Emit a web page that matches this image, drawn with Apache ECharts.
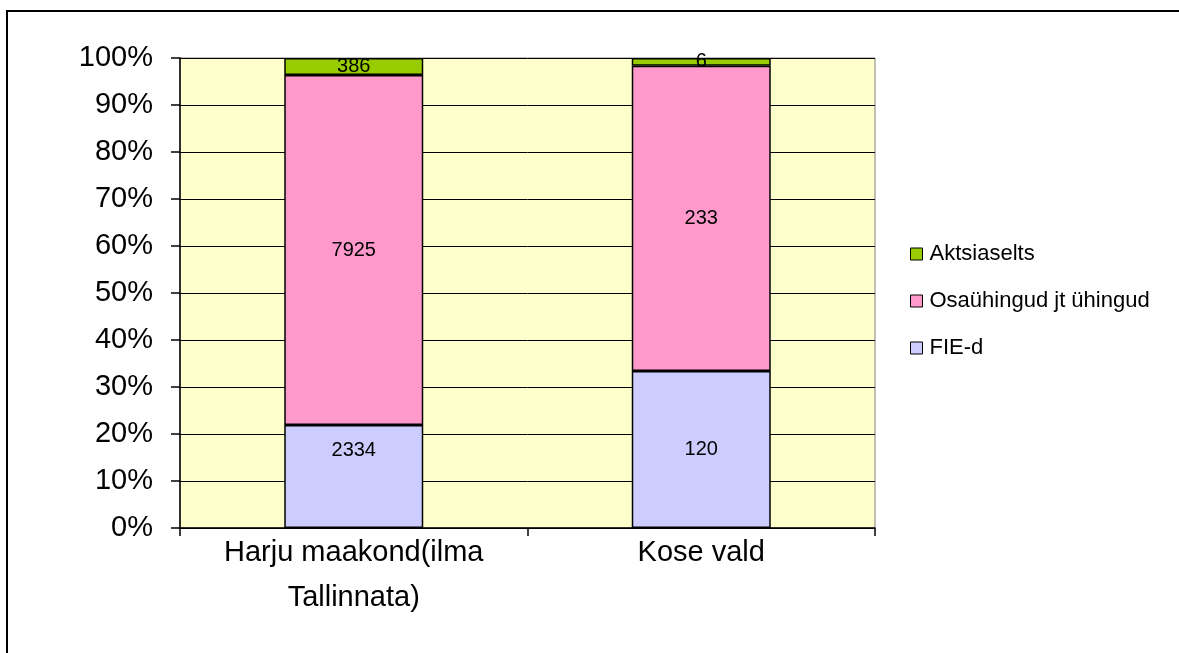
<!DOCTYPE html>
<html>
<head>
<meta charset="utf-8">
<script src="https://cdn.jsdelivr.net/npm/echarts@6/dist/echarts.min.js"></script>
<style>
  html, body { margin: 0; padding: 0; background: #fff; }
  #chart { width: 1179px; height: 653px; }
</style>
</head>
<body>
<div id="chart"></div>
<script>
// kategooriad ja väärtused
const categories = ['Harju maakond(ilma\nTallinnata)', 'Kose vald'];
const fieD = [2334, 120];
const osayhingud = [7925, 233];
const aktsiaselts = [386, 6];
const yTicks = ['0%', '10%', '20%', '30%', '40%', '50%', '60%', '70%', '80%', '90%', '100%'];

const totals = categories.map((c, i) => fieD[i] + osayhingud[i] + aktsiaselts[i]);
const pct = arr => arr.map((v, i) => ({ value: v / totals[i] * 100, raw: v }));

const font = 'Arial, Liberation Sans, sans-serif';
const chart = echarts.init(document.getElementById('chart'));

const labelStyle = {
    show: true,
    position: 'inside',
    color: '#000',
    fontFamily: font,
    fontSize: 20,
    formatter: p => p.data.raw
};

function series(name, arr, color, z) {
    return {
        name: name,
        type: 'bar',
        stack: 'total',
        barWidth: '40%',
        data: pct(arr),
        itemStyle: { color: color, borderColor: '#000', borderWidth: 1.5 },
        label: labelStyle,
        z: z
    };
}

const fieSeries = series('FIE-d', fieD, '#CCCCFF', 2);
// Harju FIE silt on veidi kõrgemal
fieSeries.data[0].label = { offset: [0, -26] };

chart.setOption({
    animation: false,
    backgroundColor: '#fff',
    graphic: [{
        type: 'rect',
        shape: { x: 7, y: 11, width: 1400, height: 800 },
        style: { fill: 'none', stroke: '#000', lineWidth: 2 },
        silent: true
    }],
    grid: {
        left: 180, top: 58, width: 695, height: 470,
        show: true, backgroundColor: '#FFFFCC',
        borderColor: '#808080', borderWidth: 1
    },
    legend: {
        orient: 'vertical',
        left: 905, top: 238,
        itemGap: 25,
        itemWidth: 12, itemHeight: 12,
        icon: 'rect',
        itemStyle: { borderColor: '#000', borderWidth: 1 },
        textStyle: { fontFamily: font, fontSize: 22, color: '#000', padding: [0, 0, 0, 2] },
        data: ['Aktsiaselts', 'Osaühingud jt ühingud', 'FIE-d']
    },
    xAxis: {
        type: 'category',
        data: categories,
        axisLine: { lineStyle: { color: '#000', width: 1.5 } },
        axisTick: { show: true, length: 8, lineStyle: { color: '#000', width: 1.5 } },
        axisLabel: {
            color: '#000', fontSize: 29, lineHeight: 45, margin: 2,
            fontFamily: font
        },
        splitLine: { show: false }
    },
    yAxis: {
        type: 'value',
        min: 0, max: 100, interval: 10,
        axisLine: { show: true, lineStyle: { color: '#000', width: 1.5 } },
        axisTick: { show: true, length: 9, lineStyle: { color: '#000', width: 1.5 } },
        axisLabel: {
            color: '#000', fontSize: 29, margin: 27,
            fontFamily: font,
            formatter: v => yTicks[Math.round(v / 10)]
        },
        splitLine: { show: true, lineStyle: { color: '#000', width: 1 } }
    },
    series: [
        fieSeries,
        series('Osaühingud jt ühingud', osayhingud, '#FF99CC', 3),
        series('Aktsiaselts', aktsiaselts, '#99CC00', 4)
    ]
});
</script>
</body>
</html>
